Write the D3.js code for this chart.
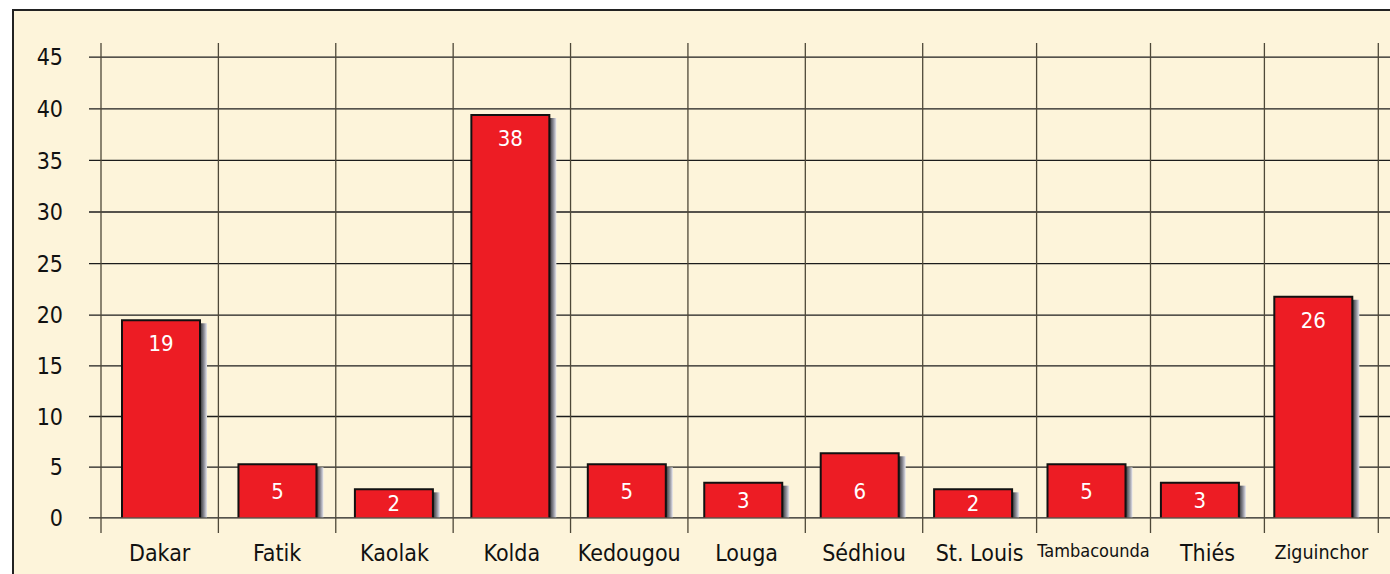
<!DOCTYPE html>
<html>
<head>
<meta charset="utf-8">
<script src="https://cdn.jsdelivr.net/npm/d3@7"></script>
<style>
  body { margin: 0; background: #ffffff; }
  svg { display: block; }
  text { font-family: "DejaVu Sans Condensed", "DejaVu Sans", sans-serif; font-stretch: condensed; }
</style>
</head>
<body>
<svg id="chart"></svg>
<script>
// regions of Senegal, bar heights as drawn and the counts printed on them
const regions = ["Dakar", "Fatik", "Kaolak", "Kolda", "Kedougou", "Louga", "Sédhiou", "St. Louis", "Tambacounda", "Thiés", "Ziguinchor"];
const barValues = [19.45, 5.23, 2.76, 39.35, 5.23, 3.42, 6.32, 2.76, 5.23, 3.42, 21.74];
const barLabels = [19, 5, 2, 38, 5, 3, 6, 2, 5, 3, 26];
const yTicks = [0, 5, 10, 15, 20, 25, 30, 35, 40, 45];

const width = 1390, height = 574;
const labelSize = { "Tambacounda": 18, "Ziguinchor": 19.5 };

const svg = d3.select("#chart")
    .attr("width", width)
    .attr("height", height);

// shadow gradient on the right side of the bars
const grad = svg.append("defs").append("linearGradient")
    .attr("id", "shadow")
    .attr("x1", "0%").attr("x2", "100%");
grad.append("stop").attr("offset", "0%").attr("stop-color", "#2e2e2e");
grad.append("stop").attr("offset", "55%").attr("stop-color", "#8a8a94");
grad.append("stop").attr("offset", "100%").attr("stop-color", "#e6e6ee");

// frame
svg.append("rect")
    .attr("x", 13).attr("y", 10)
    .attr("width", width + 20).attr("height", height + 20)
    .attr("fill", "#fdf4da")
    .attr("stroke", "#222")
    .attr("stroke-width", 2);

// the source image is slightly stretched, so the scales are piecewise
const cellEdge = d3.scaleLinear().domain([0, 7, 11]).range([101, 922.7, 1378.3]);
const barCenter = d3.scaleLinear().domain([0, 6, 10]).range([161, 859.7, 1313.3]);
const barWidth = 78;

const y = d3.scaleLinear()
    .domain([0, 20, 45])
    .range([517.3, 314.7, 56.7]);

// horizontal grid + y tick labels
const yAxis = svg.append("g")
    .attr("transform", "translate(89,0)")
    .call(d3.axisLeft(y).tickValues(yTicks).tickSize(-(width - 89)).tickPadding(26));
yAxis.select(".domain").remove();
yAxis.selectAll(".tick line").attr("stroke", "#1c1c1c").attr("stroke-width", 1.3);
yAxis.selectAll(".tick text")
    .attr("font-size", 23)
    .attr("fill", "#111")
    .attr("dy", "0.36em");

// vertical grid at cell boundaries
svg.append("g").selectAll("line")
    .data(d3.range(regions.length + 1))
    .enter()
    .append("line")
    .attr("x1", d => cellEdge(d)).attr("x2", d => cellEdge(d))
    .attr("y1", 43).attr("y2", 533)
    .attr("stroke", "#4e4838")
    .attr("stroke-width", 1.3);

// x labels, centred in their cells
svg.append("g").selectAll("text")
    .data(regions)
    .enter()
    .append("text")
    .attr("x", (d, i) => (cellEdge(i) + cellEdge(i + 1)) / 2)
    .attr("y", y(0) + 27.4)
    .attr("dy", "0.71em")
    .attr("text-anchor", "middle")
    .attr("font-size", d => labelSize[d] || 23)
    .attr("fill", "#111")
    .text(d => d);

// bars
const data = regions.map((r, i) => ({ region: r, index: i, value: barValues[i], label: barLabels[i] }));

const bars = svg.append("g").selectAll("g")
    .data(data)
    .enter()
    .append("g");

bars.append("rect")
    .attr("x", d => barCenter(d.index) + barWidth / 2)
    .attr("y", d => y(d.value) + 3)
    .attr("width", 7)
    .attr("height", d => y(0) - y(d.value) - 3)
    .attr("fill", "url(#shadow)");

bars.append("rect")
    .attr("x", d => barCenter(d.index) - barWidth / 2)
    .attr("y", d => y(d.value))
    .attr("width", barWidth)
    .attr("height", d => y(0) - y(d.value))
    .attr("fill", "#ed1c24");

bars.append("path")
    .attr("d", d => {
        const x0 = barCenter(d.index) - barWidth / 2, x1 = x0 + barWidth;
        return `M${x0},${y(0)}V${y(d.value)}H${x1}V${y(0)}`;
    })
    .attr("fill", "none")
    .attr("stroke", "#111")
    .attr("stroke-width", 2);

bars.append("text")
    .attr("x", d => barCenter(d.index))
    .attr("y", d => {
        const top = y(d.value);
        return d.value > 10 ? top + 23 : Math.max((top + y(0)) / 2, y(0) - 26);
    })
    .attr("dy", "0.36em")
    .attr("text-anchor", "middle")
    .attr("font-size", 22)
    .attr("fill", "#ffffff")
    .text(d => d.label);
</script>
</body>
</html>
